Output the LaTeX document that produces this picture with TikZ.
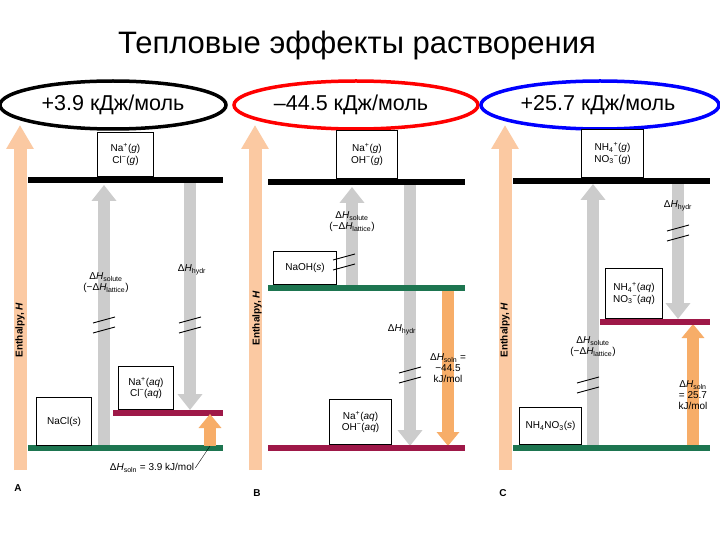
\documentclass[tikz,border=0pt]{standalone}
\usepackage{fontspec}
\setmainfont{Liberation Sans}
\usetikzlibrary{arrows.meta}
\definecolor{enth}{HTML}{FBC9A2}
\definecolor{orng}{HTML}{F7AD68}
\definecolor{gry}{HTML}{CCCCCC}
\definecolor{grn}{HTML}{1D7550}
\definecolor{mar}{HTML}{9E1848}
\newcommand{\dH}[1]{Δ\textit{H}\textsubscript{#1}}
\begin{document}
\begin{tikzpicture}[x=1pt,y=-1pt,
  box/.style={draw,line width=1pt,fill=white,inner sep=0pt,font=\fontsize{10}{11.5}\selectfont,align=center},
  lbl/.style={font=\fontsize{10}{11}\selectfont,align=center,inner sep=1pt},
  bar/.style={line width=6pt},
  gup/.style={gry,line width=12pt,-{Triangle[length=16pt,width=24pt]}},
  oup/.style={orng,line width=12pt,-{Triangle[length=14pt,width=22pt]}},
  enarr/.style={enth,line width=13pt,-{Triangle[length=24pt,width=26pt]}},
  brk/.style={line width=0.9pt},
  val/.style={font=\fontsize{21.5}{24}\selectfont,inner sep=0pt}]
\path[use as bounding box,fill=white] (0,0) rectangle (720,540);
\node (title) at (357,45) {\fontsize{31}{34}\selectfont Тепловые эффекты растворения};
% values
\node[val] (va) at (113,105) {+3.9 кДж/моль};
\node[val] (vb) at (351,105) {–44.5 кДж/моль};
\node[val] (vc) at (598,105) {+25.7 кДж/моль};
\foreach \n/\x/\w/\c in {ea/113/226/black, eb/356/244/red, ec/600/238/blue}{
  \draw[line width=3.5pt,\c] (\x,105) ellipse ({\w/2} and 24);}
% ---------- Panel A
\coordinate (ea0) at (20,470); \coordinate (ea1) at (20,125);
\draw[enarr] (ea0) -- (ea1);
\node[rotate=90,font=\bfseries\fontsize{10}{10}\selectfont] (enA) at (20,330) {Enthalpy, \textit{H}};
\coordinate (gA) at (104,448); \coordinate (gA2) at (104,185);
\draw[gup] (gA) -- (gA2);
\coordinate (hA) at (190,182); \coordinate (hA2) at (190,410);
\draw[gup] (hA) -- (hA2);
\draw[bar,black] (28,180) -- (223,180);
\draw[bar,grn] (28,448) -- (223,448);
\draw[bar,mar] (113,413) -- (223,413);
\node[box,minimum width=56pt,minimum height=44pt,anchor=south west] (bA1) at (97,177) {Na\textsuperscript{+}(\textit{g})\\Cl\textsuperscript{−}(\textit{g})};
\node[box,minimum width=55pt,minimum height=48pt,anchor=south west] (bA2) at (36,446) {NaCl(\textit{s})};
\node[box,minimum width=55pt,minimum height=43pt,anchor=south west] (bA3) at (118,410) {Na\textsuperscript{+}(\textit{aq})\\Cl\textsuperscript{−}(\textit{aq})};
\coordinate (sA) at (210,446); \coordinate (sA2) at (210,414);
\draw[oup] (sA) -- (sA2);
\node[lbl] (lA1) at (106,283) {\dH{solute}\\(−\dH{lattice})};
\node[lbl] (lA2) at (192,270) {\dH{hydr}};
\node[lbl] (lA3) at (152,468) {\dH{soln} = 3.9 kJ/mol};
\draw[thin] (lA3.east) -- (sA);
\foreach \x/\y in {104/325,190/325}{\draw[brk] (\x-11,\y-2)--(\x+11,\y-8); \draw[brk] (\x-11,\y+8)--(\x+11,\y+2);}
\node[font=\bfseries\fontsize{10}{10}\selectfont] (A) at (18,488) {A};
% ---------- Panel B
\coordinate (eb0) at (255,470); \coordinate (eb1) at (255,125);
\draw[enarr] (eb0) -- (eb1);
\node[rotate=90,font=\bfseries\fontsize{10}{10}\selectfont] (enB) at (257,318) {Enthalpy, \textit{H}};
\coordinate (gB) at (352,288); \coordinate (gB2) at (352,187);
\draw[gup] (gB) -- (gB2);
\coordinate (hB) at (410,184); \coordinate (hB2) at (410,446);
\draw[gup] (hB) -- (hB2);
\coordinate (sB) at (448,291); \coordinate (sB2) at (448,446);
\draw[oup] (sB) -- (sB2);
\draw[bar,black] (268,182) -- (465,182);
\draw[bar,grn] (268,288) -- (465,288);
\draw[bar,mar] (268,448) -- (465,448);
\node[box,minimum width=61pt,minimum height=48pt,anchor=south west] (bB1) at (336,179) {Na\textsuperscript{+}(\textit{g})\\OH\textsuperscript{−}(\textit{g})};
\node[box,minimum width=63pt,minimum height=33pt,anchor=south west] (bB2) at (273,285) {NaOH(\textit{s})};
\node[box,minimum width=62pt,minimum height=45pt,anchor=south west] (bB3) at (329,445) {Na\textsuperscript{+}(\textit{aq})\\OH\textsuperscript{−}(\textit{aq})};
\node[lbl] (lB1) at (352,222) {\dH{solute}\\(−\dH{lattice})};
\node[lbl] (lB2) at (402,330) {\dH{hydr}};
\node[lbl] (lB3) at (448,368) {\dH{soln} =\\−44.5\\kJ/mol};
\foreach \x/\y in {344/262,410/375}{\draw[brk] (\x-11,\y-2)--(\x+11,\y-8); \draw[brk] (\x-11,\y+8)--(\x+11,\y+2);}
\node[font=\bfseries\fontsize{10}{10}\selectfont] (B) at (257,493) {B};
% ---------- Panel C
\coordinate (ec0) at (505,470); \coordinate (ec1) at (505,125);
\draw[enarr] (ec0) -- (ec1);
\node[rotate=90,font=\bfseries\fontsize{10}{10}\selectfont] (enC) at (505,330) {Enthalpy, \textit{H}};
\coordinate (gC) at (593,448); \coordinate (gC2) at (593,184);
\draw[gup] (gC) -- (gC2);
\coordinate (hC) at (678,183); \coordinate (hC2) at (678,319);
\draw[gup] (hC) -- (hC2);
\coordinate (sC) at (693,446); \coordinate (sC2) at (693,324);
\draw[oup] (sC) -- (sC2);
\draw[bar,black] (513,181) -- (710,181);
\draw[bar,mar] (600,322) -- (710,322);
\draw[bar,grn] (513,448) -- (710,448);
\node[box,minimum width=62pt,minimum height=48pt,anchor=south west] (bC1) at (581,178) {NH\textsubscript{4}\textsuperscript{+}(\textit{g})\\NO\textsubscript{3}\textsuperscript{−}(\textit{g})};
\node[box,minimum width=57pt,minimum height=50pt,anchor=south west] (bC2) at (605,319) {NH\textsubscript{4}\textsuperscript{+}(\textit{aq})\\NO\textsubscript{3}\textsuperscript{−}(\textit{aq})};
\node[box,minimum width=62pt,minimum height=37pt,anchor=south west] (bC3) at (519,445) {NH\textsubscript{4}NO\textsubscript{3}(\textit{s})};
\node[lbl] (lC1) at (593,347) {\dH{solute}\\(−\dH{lattice})};
\node[lbl] (lC2) at (678,206) {\dH{hydr}};
\node[lbl] (lC3) at (693,395) {\dH{soln}\\= 25.7\\kJ/mol};
\foreach \x/\y in {588/385,678/233}{\draw[brk] (\x-11,\y-2)--(\x+11,\y-8); \draw[brk] (\x-11,\y+8)--(\x+11,\y+2);}
\node[font=\bfseries\fontsize{10}{10}\selectfont] (C) at (503,493) {C};
\end{tikzpicture}
\end{document}
